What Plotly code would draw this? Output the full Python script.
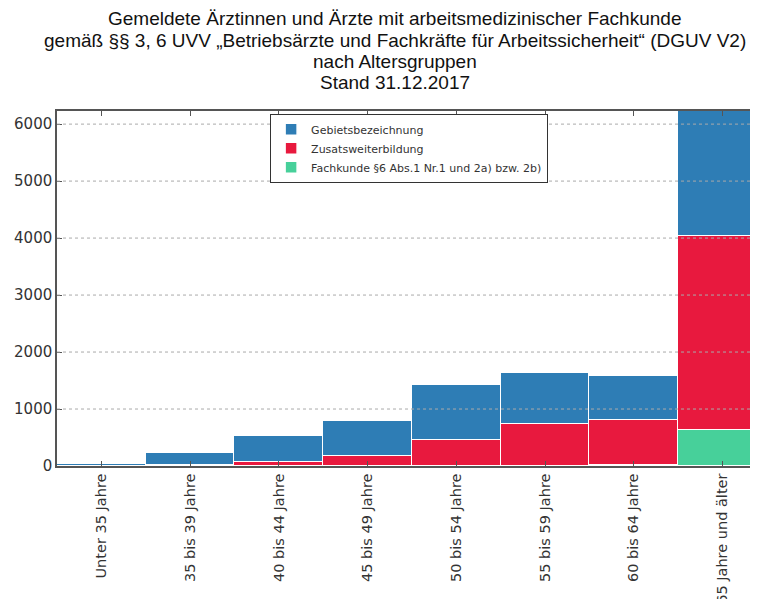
import plotly.graph_objects as go

categories = ["Unter 35 Jahre", "35 bis 39 Jahre", "40 bis 44 Jahre", "45 bis 49 Jahre",
              "50 bis 54 Jahre", "55 bis 59 Jahre", "60 bis 64 Jahre", "65 Jahre und älter"]
fachkunde = [0, 0, 5, 5, 5, 5, 25, 632]
zusatz = [5, 25, 70, 170, 451, 726, 782, 3403]
gebiet = [30, 203, 451, 615, 965, 895, 778, 2600]

tick_vals = [0, 1000, 2000, 3000, 4000, 5000, 6000]
title_lines = [
    "Gemeldete Ärztinnen und Ärzte mit arbeitsmedizinischer Fachkunde",
    "gemäß §§ 3, 6 UVV „Betriebsärzte und Fachkräfte für Arbeitssicherheit“ (DGUV V2)",
    "nach Altersgruppen",
    "Stand 31.12.2017",
]

blue = "#2E7DB5"
red = "#E8193E"
green = "#47D09A"

fig = go.Figure()
fig.add_trace(go.Bar(x=categories, y=fachkunde, name="Fachkunde §6 Abs.1 Nr.1 und 2a) bzw. 2b)",
                     marker=dict(color=green, line=dict(color="white", width=1.5)), legendrank=3))
fig.add_trace(go.Bar(x=categories, y=zusatz, name="Zusatsweiterbildung",
                     marker=dict(color=red, line=dict(color="white", width=1.5)), legendrank=2))
fig.add_trace(go.Bar(x=categories, y=gebiet, name="Gebietsbezeichnung",
                     marker=dict(color=blue, line=dict(color="white", width=1.5)), legendrank=1))

for v in tick_vals[1:]:
    fig.add_shape(type="line", xref="paper", yref="y", x0=0, x1=1, y0=v, y1=v,
                  line=dict(color="#aaa", width=1, dash="dot"), layer="above")

for i, line in enumerate(title_lines):
    fig.add_annotation(
        text=line, xref="paper", yref="paper", x=0.482, y=1.0,
        yshift=[93, 71, 50, 29][i], xanchor="center", yanchor="middle",
        showarrow=False, font=dict(family="Liberation Sans, Arial", size=19, color="#111"))

fig.update_layout(
    width=750, height=591,
    margin=dict(l=49, r=0, t=103, b=133),
    barmode="stack", bargap=0,
    plot_bgcolor="white", paper_bgcolor="white",
    font=dict(family="DejaVu Sans", size=14, color="#333"),
    showlegend=True,
    legend=dict(x=0.304, y=0.992, xanchor="left", yanchor="top", traceorder="normal",
                bgcolor="white", bordercolor="#333", borderwidth=1,
                font=dict(size=11, color="#333"), tracegroupgap=0),
    xaxis=dict(range=[-0.5, 7.40], tickangle=-90, showline=True, linecolor="#555", linewidth=1.5,
               mirror="ticks", ticks="inside", ticklen=5, tickcolor="#555", showgrid=False,
               automargin=False, tickfont=dict(size=14.5)),
    yaxis=dict(range=[0, 6230], tickvals=tick_vals, showline=True, linecolor="#555", linewidth=1.5,
               ticks="inside", ticklen=5, tickcolor="#555", showgrid=False, zeroline=False,
               automargin=False, tickfont=dict(size=15)),
)

fig.write_html("out.html")
